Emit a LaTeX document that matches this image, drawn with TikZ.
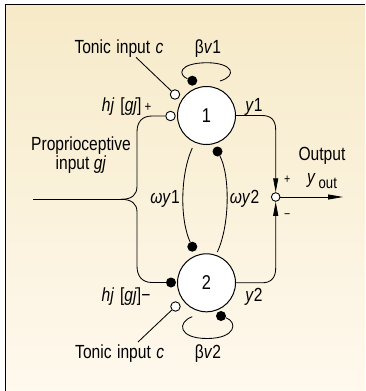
\documentclass[tikz,border=0pt]{standalone}
\usepackage{fontspec}
\setmainfont[FakeStretch=0.82]{Liberation Sans}
\usetikzlibrary{arrows.meta}
\definecolor{bgtop}{RGB}{246,234,200}
\definecolor{bgbot}{RGB}{255,249,238}
\begin{document}
\begin{tikzpicture}[x=1pt,y=-1pt,
  lab/.style={inner sep=0pt, font=\fontsize{19}{17}\selectfont},
  small/.style={inner sep=0pt, font=\fontsize{13}{13}\selectfont},
  ln/.style={line width=0.85pt},
  opendot/.style={circle, draw, fill=white, line width=0.9pt, minimum size=9.5pt, inner sep=0pt},
  filldot/.style={circle, fill=black, minimum size=10pt, inner sep=0pt},
  neuron/.style={circle, draw, fill=white, line width=1pt, minimum size=58pt, inner sep=0pt, font=\fontsize{20}{20}\selectfont},
  tip/.style={-{Triangle[length=14pt,width=5pt]}}
]
\useasboundingbox (0,0) rectangle (365,391);
\fill[white] (0,0) rectangle (365,391);
\shade[top color=bgtop, bottom color=bgbot] (5.5,4.5) rectangle (365,391);
\draw[line width=1.3pt] (5.5,391) -- (5.5,4.5) -- (365,4.5);

% neurons
\node[neuron] (n1) at (206.5,115.5) {1};
\node[neuron] (n2) at (206.5,282.8) {2};

% synapse dots
\node[opendot] (tc1) at (175,94.5) {};
\node[opendot] (hj1) at (170.5,116) {};
\node[filldot] (b1) at (192.3,80.7) {};
\node[filldot] (w2d) at (217.5,151.5) {};
\node[filldot] (w1d) at (192.3,246.7) {};
\node[filldot] (hj2) at (171,282.5) {};
\node[opendot] (tc2) at (175.5,306.5) {};
\node[filldot] (b2) at (221,316) {};
\node[opendot, minimum size=8.6pt] (sum) at (275.7,197) {};

% free ends
\coordinate (in0) at (33,199.3);
\coordinate (br) at (121,199.3);
\coordinate (tc1e) at (136,57.3);
\coordinate (tc2e) at (138,342);
\coordinate (w1s) at (192.3,148);
\coordinate (w2e) at (217.3,252);
\coordinate (b1e) at (220,81);
\coordinate (b2s) at (192.3,316.7);
\coordinate (out) at (343,197);

% tonic inputs
\draw[ln] (tc1e) -- (tc1);
\draw[ln] (tc2e) -- (tc2);

% proprioceptive input
\draw[ln] (in0) -- (br);
\draw[ln] (br) .. controls (132,199.3) and (137,195) .. (137,186) -- (137,132)
  .. controls (137,122) and (142,116) .. (152,116) -- (hj1);
\draw[ln] (br) .. controls (132,199.3) and (137,204) .. (137,212) -- (137,266)
  .. controls (137,276) and (142,282.5) .. (152,282.5) -- (hj2);

% mutual inhibition
\draw[ln] (w1s) .. controls (180,175) and (180,220) .. (w1d);
\draw[ln] (w2d) .. controls (230,175) and (230,225) .. (w2e);

% adaptation loops
\draw[ln] (b1) .. controls (178,75) and (178,63) .. (207,62.7)
  .. controls (234,63) and (237,76) .. (b1e);
\draw[ln] (b2s) .. controls (177,322) and (178,338.5) .. (207,338.5)
  .. controls (236,338.5) and (238,322) .. (b2);

% outputs
\draw[ln, tip] (n1.east) -- (262,115.5) .. controls (271,115.5) and (275.7,120) .. (275.7,130) -- (sum.north);
\draw[ln, tip] (n2.east) -- (262,282.8) .. controls (271,282.8) and (275.7,278) .. (275.7,268) -- (sum.south);
\draw[ln, -{Triangle[length=15pt,width=5pt]}] (sum) -- (out);

% labels
\node[lab, anchor=base] (ltc1) at (119,53.3) {Tonic\hspace{5.5pt}input\hspace{5.5pt}\textit{c}};
\node[lab, anchor=base] (lb1) at (208,53.3) {β\textit{v}1};
\node[lab, anchor=base] (lhj1) at (126.7,111.7) {\textit{hj}\hspace{6pt}[\textit{gj}]\,{\fontsize{14}{14}\selectfont +}};
\node[lab, anchor=base] (ly1) at (254,111.7) {\textit{y}1};
\node[lab, anchor=north, align=center] (lpro) at (81,136.4) {Proprioceptive\\input \textit{gj}};
\node[lab, anchor=base] (lw1) at (165,203.3) {\textit{ωy}1};
\node[lab, anchor=base] (lw2) at (244.5,203.3) {\textit{ωy}2};
\node[lab, anchor=base] (lout) at (322,160.7) {Output};
\node[lab, anchor=base] (lyout) at (322,183.3) {\textit{y}\hspace{3pt}\raisebox{-5pt}{\fontsize{16}{16}\selectfont out}};
\node[small] (lplus) at (287.3,179.3) {+};
\node[small] (lminus) at (287.3,216) {−};
\node[lab, anchor=base] (lhj2) at (126,301.7) {\textit{hj}\hspace{6pt}[\textit{gj}]−};
\node[lab, anchor=base] (ly2) at (254,301.7) {\textit{y}2};
\node[lab, anchor=base] (ltc2) at (119.7,358.3) {Tonic\hspace{5.5pt}input\hspace{5.5pt}\textit{c}};
\node[lab, anchor=base] (lb2) at (208,358.3) {β\textit{v}2};
\end{tikzpicture}
\end{document}
